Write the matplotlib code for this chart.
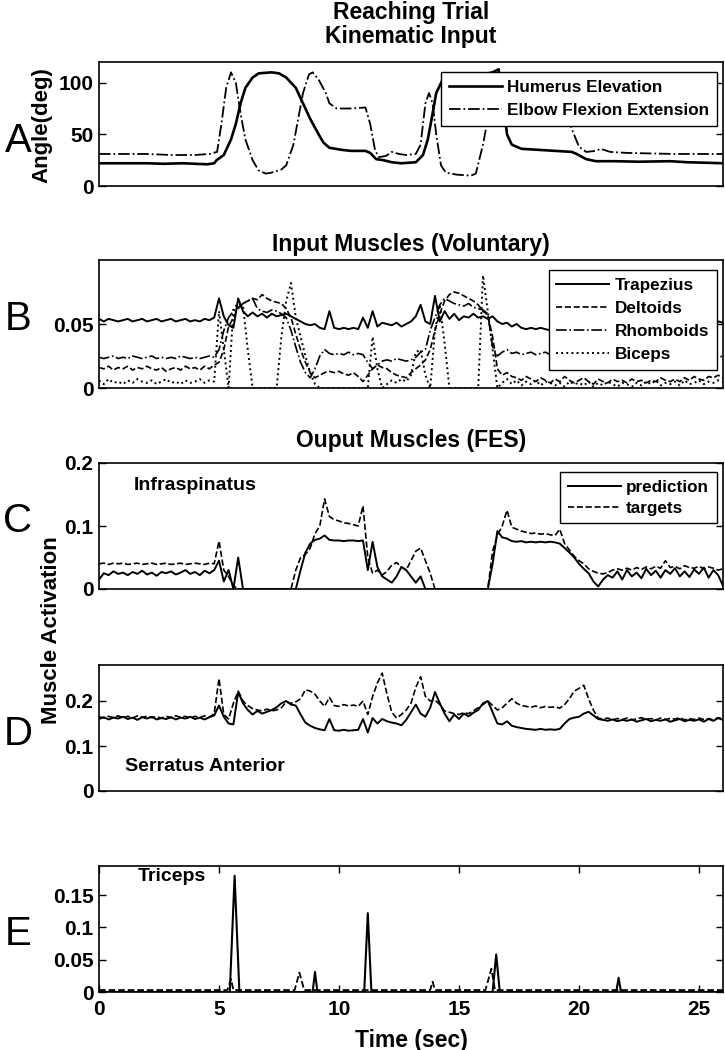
import numpy as np
import matplotlib.pyplot as plt

plt.rcParams['font.family'] = ['Liberation Sans', 'DejaVu Sans']
plt.rcParams['font.weight'] = 'bold'

# ---- panel A: kinematic input (deg) at their turning points
t_hum = [0, 1, 2, 2.7, 3.5, 4.5, 4.8, 4.9, 5.2, 5.5, 5.7, 5.9, 6.1, 6.4, 6.65, 7.2, 7.5,
         7.8, 8.2, 8.5, 8.8, 9.15, 9.35, 9.6, 10.1, 10.5, 11.1, 11.3, 11.55, 11.85, 12.2,
         12.6, 13.2, 13.5, 13.7, 13.9, 14.05, 14.3, 14.6, 15.0, 16.0, 16.4, 16.65, 16.85,
         17.0, 17.2, 17.6, 19.0, 19.7, 19.9, 20.3, 20.7, 21.5, 22.5, 23.8, 24.5, 25.3, 26]
humerus = [22, 22, 22, 21.5, 22, 21, 22, 25, 30, 45, 60, 80, 95, 105, 109, 110, 109,
           105, 95, 80, 65, 50, 42, 37, 35, 34, 34, 32, 26, 25, 23,
           22, 23, 30, 45, 70, 90, 102, 106, 107, 108, 110, 113, 80,
           50, 40, 36, 34, 33, 31, 26, 24, 24, 23.5, 24, 23, 22.5, 22]

t_elb = [0, 2, 3, 4, 4.6, 4.92, 5.1, 5.3, 5.5, 5.7, 5.9, 6.1, 6.4, 6.65, 6.95, 7.2, 7.6,
         7.8, 8.1, 8.3, 8.5, 8.75, 8.9, 9.15, 9.45, 9.6, 9.9, 10.5, 11.1, 11.3, 11.5, 11.65,
         11.95, 12.2, 12.5, 12.8, 13.2, 13.4, 13.6, 13.75, 13.9, 14.05, 14.25, 14.45, 14.9,
         15.5, 15.7, 16.0, 16.2, 16.55, 16.9, 17.3, 17.6, 18.0, 19.3, 19.5, 19.7, 20.0, 20.3,
         20.7, 20.9, 21.3, 22, 24, 26]
elbow = [31, 31, 30, 30, 31, 33, 60, 95, 110, 100, 70, 45, 25, 15, 12, 13, 16,
         20, 40, 65, 90, 108, 110, 103, 90, 80, 75, 75, 76, 60, 35, 28,
         29, 33, 31, 30, 31, 40, 80, 90, 80, 50, 20, 13, 11,
         10, 12, 40, 65, 100, 105, 95, 80, 75, 75, 70, 55, 38, 33,
         34, 36, 33, 32, 31, 31]

# ---- panels B-D: sampled every 0.2 s from 0 to 26 s (131 samples)
t_grid = np.linspace(0, 26, 131)

trapezius = [
    .054, .052, .054, .053, .052, .053, .054, .052, .053, .054,
    .052, .053, .054, .052, .053, .054, .052, .053, .054, .052,
    .053, .052, .054, .053, .055, .070, .056, .049, .047, .070,
    .060, .056, .059, .056, .058, .055, .058, .056, .057, .058,
    .056, .054, .052, .050, .049, .050, .047, .046, .060, .047,
    .046, .047, .046, .047, .046, .055, .047, .060, .048, .051,
    .050, .049, .051, .048, .050, .052, .056, .065, .052, .050,
    .072, .052, .060, .054, .058, .053, .056, .055, .058, .055,
    .056, .054, .056, .052, .050, .051, .048, .050, .047, .046,
    .047, .046, .047, .046, .045, .046, .047, .045, .046, .047,
    .046, .045, .047, .046, .045, .046, .047, .046, .045, .046,
    .047, .046, .045, .047, .046, .045, .046, .047, .046, .047,
    .048, .047, .049, .048, .050, .049, .051, .050, .049, .052,
    .051]
deltoids = [
    .016, .015, .017, .014, .016, .015, .017, .014, .016, .015,
    .017, .015, .014, .016, .013, .015, .016, .014, .017, .015,
    .016, .014, .017, .015, .018, .020, .030, .048, .055, .062,
    .066, .068, .070, .069, .073, .070, .068, .067, .066, .062,
    .055, .042, .030, .020, .012, .008, .010, .012, .013, .012,
    .013, .011, .010, .012, .009, .005, .010, .015, .018, .016,
    .015, .012, .010, .009, .008, .012, .015, .018, .022, .030,
    .045, .058, .068, .073, .075, .074, .072, .070, .068, .065,
    .060, .057, .040, .015, .010, .012, .009, .008, .006, .009,
    .007, .005, .008, .006, .004, .007, .005, .009, .006, .004,
    .006, .008, .005, .003, .007, .005, .004, .007, .005, .006,
    .004, .007, .005, .006, .004, .006, .005, .008, .006, .005,
    .007, .005, .008, .006, .009, .007, .006, .009, .008, .010,
    .008]
rhomboids = [
    .024, .023, .024, .025, .023, .024, .023, .025, .024, .023,
    .024, .025, .023, .024, .023, .024, .023, .025, .024, .023,
    .024, .023, .024, .025, .024, .030, .045, .055, .060, .063,
    .066, .068, .070, .062, .060, .059, .061, .060, .058, .055,
    .045, .032, .020, .012, .008, .015, .025, .030, .027, .026,
    .027, .026, .028, .026, .027, .026, .020, .015, .018, .021,
    .022, .021, .023, .022, .021, .022, .024, .028, .030, .045,
    .055, .065, .070, .068, .066, .065, .064, .066, .063, .062,
    .061, .058, .032, .025, .028, .030, .027, .028, .026, .027,
    .028, .026, .027, .028, .026, .027, .028, .026, .027, .028,
    .026, .027, .028, .026, .027, .028, .026, .027, .025, .027,
    .026, .028, .027, .026, .028, .027, .026, .028, .027, .026,
    .027, .028, .026, .027, .028, .026, .027, .025, .026, .024,
    .025]
biceps = [
    .006, .003, .007, .004, .005, .003, .006, .004, .007, .005,
    .004, .006, .003, .005, .007, .004, .005, .003, .006, .004,
    .005, .007, .004, .006, .005, .060, .030, .000, .062, .066,
    .064, .030, .000, .000, .000, .000, .000, .000, .040, .068,
    .082, .055, .040, .025, .012, .003, .000, .000, .000, .000,
    .000, .000, .000, .000, .000, .000, .000, .040, .015, .000,
    .003, .006, .004, .007, .005, .010, .028, .030, .010, .000,
    .045, .065, .035, .000, .000, .000, .000, .000, .000, .000,
    .088, .060, .030, .000, .004, .007, .003, .006, .002, .005,
    .003, .006, .002, .005, .004, .002, .004, .001, .005, .003,
    .004, .002, .005, .001, .004, .002, .005, .003, .001, .004,
    .003, .001, .004, .002, .005, .003, .006, .002, .004, .003,
    .005, .002, .006, .003, .004, .006, .003, .005, .004, .006,
    .005]

infra_pred = [
    .015, .025, .022, .028, .024, .026, .022, .027, .024, .029,
    .023, .026, .021, .027, .025, .028, .023, .026, .030, .024,
    .027, .022, .029, .025, .030, .045, .012, .030, .000, .050,
    .000, .000, .000, .000, .000, .000, .000, .000, .000, .000,
    .000, .000, .030, .058, .072, .078, .080, .085, .078, .077,
    .077, .076, .077, .077, .076, .077, .030, .075, .035, .020,
    .015, .010, .020, .035, .030, .020, .010, .020, .000, .000,
    .000, .000, .000, .000, .000, .000, .000, .000, .000, .000,
    .000, .000, .040, .092, .082, .080, .076, .075, .076, .074,
    .075, .074, .075, .074, .075, .074, .072, .065, .058, .050,
    .040, .032, .025, .012, .004, .015, .022, .018, .028, .015,
    .030, .020, .026, .017, .032, .022, .029, .018, .030, .024,
    .033, .020, .028, .019, .031, .024, .034, .018, .030, .022,
    .005]
infra_targ = [
    .040, .041, .039, .041, .040, .041, .039, .040, .041, .039,
    .040, .041, .039, .040, .041, .039, .040, .041, .039, .040,
    .041, .040, .039, .041, .040, .076, .030, .020, .005, .000,
    .000, .000, .000, .000, .000, .000, .000, .000, .000, .000,
    .000, .030, .050, .055, .065, .088, .100, .143, .115, .110,
    .108, .105, .104, .102, .100, .132, .050, .025, .030, .022,
    .028, .038, .042, .035, .030, .045, .060, .065, .045, .025,
    .000, .000, .000, .000, .000, .000, .000, .000, .000, .000,
    .000, .000, .060, .085, .100, .125, .098, .095, .092, .090,
    .088, .089, .087, .088, .086, .085, .095, .072, .062, .052,
    .045, .040, .032, .028, .025, .024, .026, .030, .032, .030,
    .033, .030, .034, .031, .035, .032, .036, .033, .045, .034,
    .036, .032, .037, .034, .033, .036, .032, .035, .033, .030,
    .032]

serr_pred = [
    .160, .164, .159, .163, .161, .165, .160, .163, .158, .164,
    .161, .165, .159, .162, .160, .164, .159, .163, .161, .165,
    .160, .163, .159, .164, .168, .190, .165, .150, .148, .220,
    .195, .180, .170, .178, .172, .176, .180, .186, .195, .200,
    .192, .190, .170, .152, .145, .140, .137, .135, .160, .135,
    .134, .136, .134, .135, .136, .160, .130, .162, .150, .160,
    .155, .152, .150, .146, .158, .175, .192, .172, .165, .185,
    .220, .195, .172, .155, .170, .160, .172, .166, .174, .180,
    .195, .200, .175, .150, .148, .155, .145, .142, .140, .138,
    .137, .136, .138, .136, .137, .136, .138, .150, .160, .163,
    .165, .172, .176, .168, .160, .158, .156, .159, .155, .158,
    .156, .159, .154, .157, .160, .155, .158, .156, .159, .154,
    .157, .160, .155, .158, .156, .159, .154, .160, .156, .162,
    .158]
serr_targ = [
    .165, .162, .166, .163, .167, .163, .166, .162, .167, .164,
    .166, .163, .165, .162, .166, .163, .167, .164, .166, .162,
    .166, .163, .167, .164, .172, .250, .170, .160, .195, .222,
    .200, .190, .183, .180, .178, .182, .178, .180, .185, .198,
    .195, .198, .205, .225, .222, .215, .200, .188, .208, .190,
    .188, .192, .189, .191, .188, .200, .170, .210, .240, .262,
    .215, .175, .162, .170, .180, .195, .230, .254, .210, .200,
    .202, .192, .178, .175, .172, .170, .174, .172, .178, .185,
    .192, .200, .190, .180, .185, .195, .205, .195, .190, .188,
    .186, .189, .185, .188, .186, .187, .184, .192, .205, .222,
    .228, .235, .205, .180, .162, .160, .162, .158, .161, .159,
    .162, .158, .160, .163, .159, .161, .158, .162, .159, .161,
    .160, .163, .158, .161, .159, .162, .159, .161, .158, .163,
    .160]

# ---- panel E: triceps, flat with short bursts
t_tri_pred = [0, 5.45, 5.65, 5.85, 8.9, 9.0, 9.1, 11.05, 11.2, 11.35, 16.4, 16.55, 16.7,
              21.55, 21.65, 21.75, 26]
tri_pred = [0, 0, .180, 0, 0, .031, 0, 0, .122, 0, 0, .058, 0, 0, .022, 0, 0]
t_tri_targ = [0, 5.35, 5.5, 5.6, 8.15, 8.35, 8.55, 13.8, 13.9, 14.0, 16.1, 16.35, 16.5, 26]
tri_targ = [.003, .003, .02, .003, .003, .030, .003, .003, .016, .003, .003, .036, .003, .003]

time_ticks = [0, 5, 10, 15, 20, 25]

# ---- layout in pixels of the 725x1050 picture
W, H = 725, 1050
X0, X1 = 99, 723
fig = plt.figure(figsize=(W / 100, H / 100), dpi=100)


def panel(top, bottom):
    ax = fig.add_axes([X0 / W, 1 - bottom / H, (X1 - X0) / W, (bottom - top) / H])
    ax.set_xlim(0, 26)
    ax.tick_params(direction='in', length=5, width=1, right=True, labelsize=15, pad=4)
    for s in ax.spines.values():
        s.set_linewidth(1.2)
    return ax


def ftext(x, y, s, **kw):
    fig.text(x / W, 1 - y / H, s, ha='center', va='center', **kw)


def box_legend(ax, top, labelspacing):
    leg = ax.legend(loc='upper right', bbox_to_anchor=(0.990, top), fontsize=12.3,
                    handlelength=3.1, handletextpad=0.3, labelspacing=labelspacing,
                    borderpad=0.45, borderaxespad=0, fancybox=False, framealpha=1,
                    edgecolor='k')
    leg.get_frame().set_linewidth(1)


# A
axA = panel(62, 186)
axA.plot(t_hum, humerus, color='k', lw=1.9, label='Humerus Elevation')
axA.plot(t_elb, elbow, color='k', ls='-.', lw=1.3, label='Elbow Flexion Extension')
axA.set_ylim(0, 120)
axA.set_yticks([0, 50, 100])
axA.set_xticks([])
box_legend(axA, 0.919, 0.5)

# B
axB = panel(260, 388)
axB.plot(t_grid, trapezius, color='k', lw=1.4, label='Trapezius')
axB.plot(t_grid, deltoids, color='k', ls='--', lw=1.2, label='Deltoids')
axB.plot(t_grid, rhomboids, color='k', ls='-.', lw=1.2, label='Rhomboids')
axB.plot(t_grid, biceps, color='k', ls=':', lw=1.4, label='Biceps')
axB.set_ylim(0, 0.1)
axB.set_yticks([0, 0.05])
axB.set_yticklabels(['0', '0.05'])
axB.set_xticks([])
box_legend(axB, 0.922, 0.48)

# C
axC = panel(463, 589)
axC.plot(t_grid, infra_pred, color='k', lw=1.4, label='prediction')
axC.plot(t_grid, infra_targ, color='k', ls='--', lw=1.2, label='targets')
axC.set_ylim(0, 0.2)
axC.set_yticks([0, 0.1, 0.2])
axC.set_yticklabels(['0', '0.1', '0.2'])
axC.set_xticks([])
axC.text(1.46, 0.165, 'Infraspinatus', fontsize=14, va='center')
box_legend(axC, 0.929, 0.35)

# D
axD = panel(665, 791)
axD.plot(t_grid, serr_pred, color='k', lw=1.4)
axD.plot(t_grid, serr_targ, color='k', ls='--', lw=1.2)
axD.set_ylim(0, 0.28)
axD.set_yticks([0, 0.1, 0.2])
axD.set_yticklabels(['0', '0.1', '0.2'])
axD.set_xticks([])
axD.text(1.08, 0.055, 'Serratus Anterior', fontsize=14, va='center')

# E
axE = panel(866, 992)
axE.plot(t_tri_targ, tri_targ, color='k', ls='--', lw=1.3)
axE.plot(t_tri_pred, tri_pred, color='k', lw=1.5)
axE.set_ylim(0, 0.195)
axE.set_yticks([0, 0.05, 0.1, 0.15])
axE.set_yticklabels(['0', '0.05', '0.1', '0.15'])
axE.set_xticks(time_ticks)
axE.tick_params(axis='x', top=True, pad=6)
axE.text(1.6, 0.178, 'Triceps', fontsize=14, va='center')

# titles, labels and panel letters
ftext(411, 12, 'Reaching Trial', fontsize=16.5)
ftext(411, 37, 'Kinematic Input', fontsize=16.5)
ftext(411, 244, 'Input Muscles (Voluntary)', fontsize=16.5)
ftext(411, 440, 'Ouput Muscles (FES)', fontsize=16.5)
ftext(411, 1040, 'Time (sec)', fontsize=16.5)
ftext(42, 125, 'Angle(deg)', fontsize=16, rotation=90)
ftext(52, 630, 'Muscle Activation', fontsize=16, rotation=90)
for letter, y in zip('ABCDE', [141, 319, 521, 734, 934]):
    ftext(18, y, letter, fontsize=29, fontweight='normal')

fig.savefig('out.png', dpi=100)
